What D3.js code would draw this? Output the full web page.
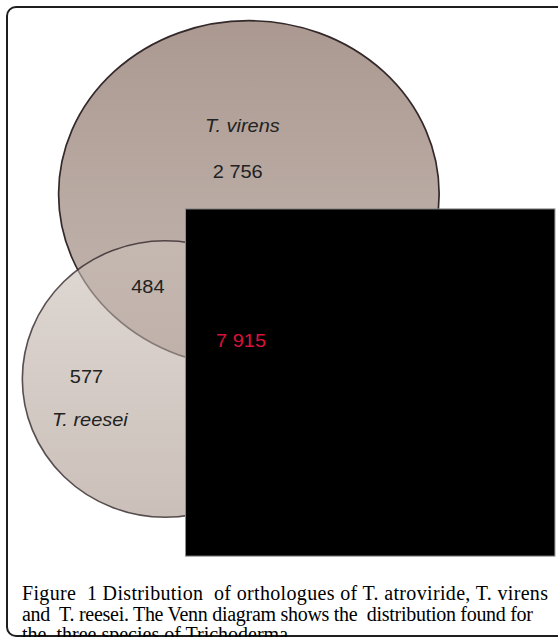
<!DOCTYPE html>
<html>
<head>
<meta charset="utf-8">
<script src="https://cdn.jsdelivr.net/npm/d3@7"></script>
<style>
  html, body { margin: 0; padding: 0; background: #fff; }
  svg { display: block; }
</style>
</head>
<body>
<script>
// ---- data ----
const setNames = ["T. virens", "T. reesei", "T. atroviride"];
const regionLabels = ["virens only", "virens ∩ reesei", "reesei only", "all three"];
const regionValues = [2756, 484, 577, 7915];
const captionLines = [
  "Figure  1 Distribution  of orthologues of T. atroviride, T. virens",
  "and  T. reesei. The Venn diagram shows the  distribution found for",
  "the  three species of Trichoderma."
];

// ---- layout ----
const W = 558, H = 637;
const svg = d3.select("body").append("svg").attr("width", W).attr("height", H);

// unit scales (diagram space 0..100 mapped to pixels)
const sx = d3.scaleLinear().domain([0, 100]).range([0, W]);
const sy = d3.scaleLinear().domain([0, 100]).range([0, H]);

const fmt = d3.formatLocale({decimal: ".", thousands: " ", grouping: [3], currency: ["", ""]}).format(",");

const defs = svg.append("defs");
const g1 = defs.append("linearGradient").attr("id", "gV").attr("x1", 0).attr("y1", 0).attr("x2", 0).attr("y2", 1);
g1.append("stop").attr("offset", "0%").attr("stop-color", "#ab9991");
g1.append("stop").attr("offset", "100%").attr("stop-color", "#c5b9b2");
const g2 = defs.append("linearGradient").attr("id", "gR").attr("x1", 0).attr("y1", 0).attr("x2", 0).attr("y2", 1);
g2.append("stop").attr("offset", "0%").attr("stop-color", "#cbbfb8");
g2.append("stop").attr("offset", "100%").attr("stop-color", "#a8958a");

// frame
svg.append("rect")
  .attr("x", 7).attr("y", 7).attr("width", 570).attr("height", 629)
  .attr("rx", 9).attr("ry", 9)
  .attr("fill", "#fff").attr("stroke", "#1e1e1e").attr("stroke-width", 2);

// ellipses (diagram units)
const ellipses = [
  {name: setNames[0], cx: 44.6, cy: 30.45, rx: 34.1, ry: 27.2, fill: "url(#gV)", op: 1},
  {name: setNames[1], cx: 29.6, cy: 59.5, rx: 25.6, ry: 21.7, fill: "url(#gR)", op: 0.6}
];

const v = ellipses[0], r = ellipses[1];
svg.append("ellipse").attr("cx", sx(v.cx)).attr("cy", sy(v.cy)).attr("rx", sx(v.rx)).attr("ry", sy(v.ry))
  .attr("fill", v.fill).attr("stroke", "#33282a").attr("stroke-width", 1.7);
svg.append("ellipse").attr("cx", sx(r.cx)).attr("cy", sy(r.cy)).attr("rx", sx(r.rx)).attr("ry", sy(r.ry))
  .attr("fill", r.fill).attr("fill-opacity", r.op).attr("stroke", "#33282a").attr("stroke-width", 1.6).attr("stroke-opacity", 0.8);

// labels
const labels = [
  {text: setNames[0], x: 43.45, y: 20.7, italic: true, color: "#222"},
  {text: fmt(regionValues[0]), x: 42.6, y: 27.9, italic: false, color: "#222"},
  {text: fmt(regionValues[1]), x: 26.5, y: 46.0, italic: false, color: "#222"},
  {text: fmt(regionValues[2]), x: 15.5, y: 60.05, italic: false, color: "#222"},
  {text: setNames[1], x: 16.1, y: 66.85, italic: true, color: "#222"}
];

// occluding black box (covers T. atroviride)
svg.append("rect")
  .attr("x", sx(33.25)).attr("y", sy(32.8)).attr("width", sx(66.2)).attr("height", sy(54.5))
  .attr("fill", "#000").attr("stroke", "#8c8c8c").attr("stroke-width", 1);

labels.push({text: fmt(regionValues[3]), x: 43.2, y: 54.45, italic: false, color: "#d8123c"});

svg.selectAll("text.lbl").data(labels).join("text")
  .attr("class", "lbl")
  .attr("transform", d => `translate(${sx(d.x)},${sy(d.y)}) scale(1.11,1)`)
  .attr("text-anchor", "middle")
  .attr("font-family", "'Liberation Sans', Arial, sans-serif")
  .attr("font-size", 18)
  .attr("font-style", d => d.italic ? "italic" : "normal")
  .attr("fill", d => d.color)
  .text(d => d.text);

// caption
const capW = [526, 511, null];
svg.selectAll("text.cap").data(captionLines).join("text")
  .attr("class", "cap")
  .attr("x", 22)
  .attr("y", (d, i) => 600 + i * 20.5)
  .attr("font-family", "'Liberation Serif', 'Times New Roman', serif")
  .attr("font-size", 20)
  .attr("fill", "#000")
  .attr("xml:space", "preserve")
  .each(function(d, i) {
    if (capW[i]) d3.select(this).attr("textLength", capW[i]).attr("lengthAdjust", "spacing");
  })
  .text(d => d);
</script>
</body>
</html>
